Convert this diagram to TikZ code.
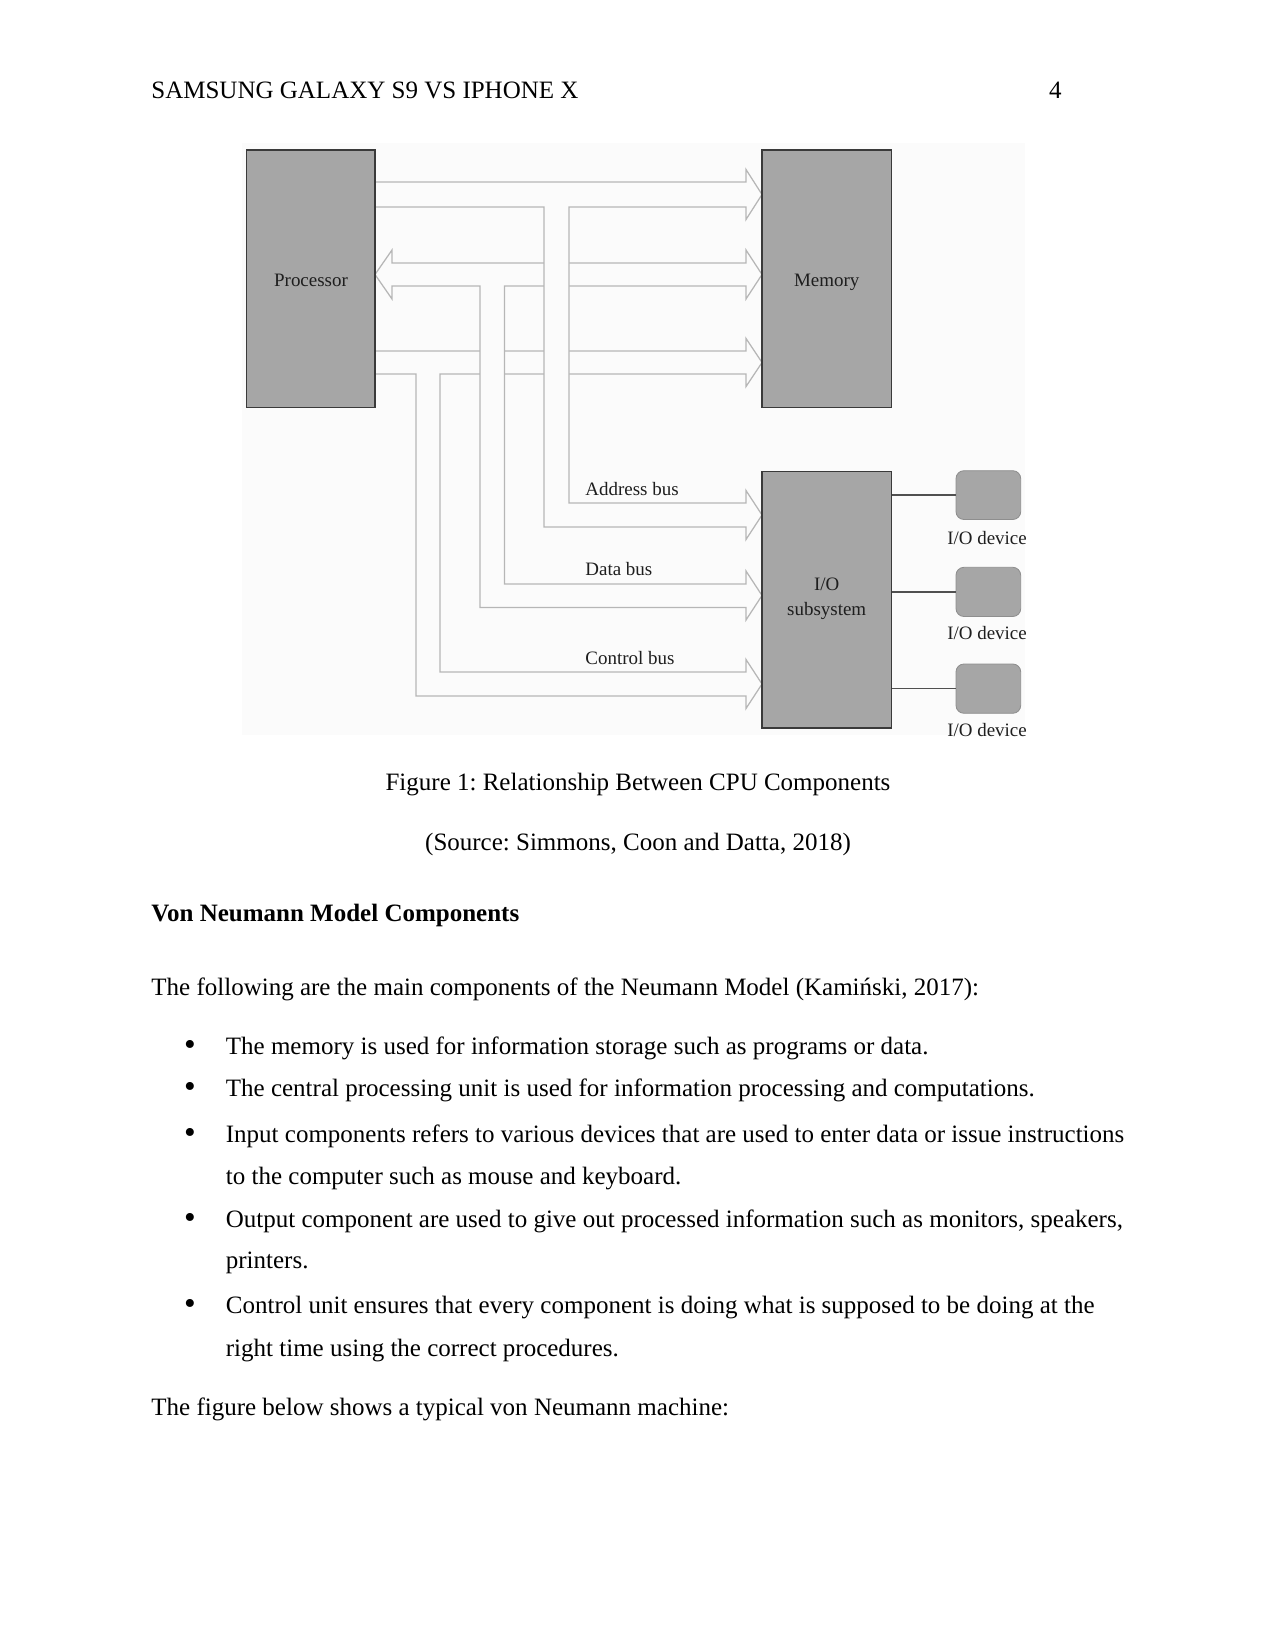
\documentclass[tikz,border=0pt]{standalone}
\usepackage{fontspec}
\setmainfont{Liberation Serif}
\usetikzlibrary{fit}
\definecolor{boxgray}{HTML}{A6A6A6}
\definecolor{boxedge}{HTML}{3A3A3A}
\definecolor{devedge}{HTML}{8E8E8E}
\definecolor{busline}{HTML}{B6B6B6}
\definecolor{bgfill}{HTML}{FBFBFB}
\definecolor{labelc}{HTML}{1E1E1E}
\definecolor{connc}{HTML}{505050}
\frenchspacing
\begin{document}
\begin{tikzpicture}[x=0.48pt,y=-0.48pt,
  blk/.style={draw=boxedge,line width=0.75pt,fill=boxgray,inner sep=0pt,outer sep=0pt},
  dev/.style={draw=devedge,line width=0.4pt,fill=boxgray,rounded corners=3.8pt,inner sep=0pt,outer sep=0pt},
  bus/.style={draw=busline,line width=0.6pt,fill=bgfill,line join=miter},
  conn/.style={draw=connc,line width=0.6pt},
  lbl/.style={font=\fontsize{9.1}{11}\selectfont,text=labelc,inner sep=0pt,anchor=base},
  txt/.style={font=\fontsize{12}{14}\selectfont,inner sep=0pt,anchor=base west},
  ctxt/.style={font=\fontsize{12}{14}\selectfont,inner sep=0pt,anchor=base},
  bul/.style={font=\fontsize{16}{16}\selectfont,inner sep=0pt,anchor=base}]
\useasboundingbox (0,0) rectangle (1275,1651);

% page text
\node[txt] (hdr) at (151,98.3) {SAMSUNG GALAXY S9 VS IPHONE X};
\node[font=\fontsize{12}{14}\selectfont,inner sep=0pt,anchor=base east] (pg) at (1062,98.3) {4};

% diagram background
\fill[bgfill] (242,143) rectangle (1025,735);

% control bus
\draw[bus] (375,351) -- (746,351) -- (746,338.5) -- (762,362.5) -- (746,386.5) -- (746,374)
  -- (440,374) -- (440,672) -- (746,672) -- (746,659.5) -- (762,684) -- (746,708.5) -- (746,696)
  -- (416,696) -- (416,374) -- (375,374) -- cycle;
% data bus
\draw[bus] (375,274.5) -- (392,250) -- (392,263) -- (746,263) -- (746,250) -- (762,274.5)
  -- (746,299) -- (746,286) -- (504.5,286) -- (504.5,584) -- (746,584) -- (746,571) -- (762,595.5)
  -- (746,620) -- (746,607.5) -- (480,607.5) -- (480,286) -- (392,286) -- (392,299) -- cycle;
% address bus
\draw[bus] (375,182) -- (746,182) -- (746,169.5) -- (762,194.5) -- (746,219.5) -- (746,207)
  -- (569,207) -- (569,503) -- (746,503) -- (746,490.5) -- (762,515) -- (746,539.5) -- (746,527)
  -- (544,527) -- (544,207) -- (375,207) -- cycle;

% blocks
\node[blk, fit={(246.7,150) (375,407.7)}] (proc) {};
\node[blk, fit={(762,150) (891.7,407.7)}] (mem) {};
\node[blk, fit={(762,471.7) (891.7,728)}] (io) {};
\node[dev, fit={(956,470.7) (1020.7,519.5)}] (d1) {};
\node[dev, fit={(956,567.3) (1020.7,616.5)}] (d2) {};
\node[dev, fit={(956,664) (1020.7,713.3)}] (d3) {};
\draw[conn] (io.east |- d1.west) -- (d1.west);
\draw[conn] (io.east |- d2.west) -- (d2.west);
\draw[conn] (io.east |- d3.west) -- (d3.west);

% diagram labels
\node[lbl] (proct) at (311,286.7) {Processor};
\node[lbl] (memt) at (826.7,286.7) {Memory};
\node[lbl] (iot1) at (826.7,590.7) {I/O};
\node[lbl] (iot2) at (826.7,615.7) {subsystem};
\node[lbl] (d1t) at (987,544.3) {I/O device};
\node[lbl] (d2t) at (987,639.3) {I/O device};
\node[lbl] (d3t) at (987,736) {I/O device};
\node[lbl,anchor=base west] (abus) at (585,495.7) {Address bus};
\node[lbl,anchor=base west] (dbus) at (585,575.7) {Data bus};
\node[lbl,anchor=base west] (cbus) at (585,664.3) {Control bus};

% captions and body
\node[ctxt] (cap) at (638,790.5) {Figure 1: Relationship Between CPU Components};
\node[ctxt] (src) at (638,850) {(Source: Simmons, Coon and Datta, 2018)};
\node[txt,font=\fontsize{12}{14}\selectfont\bfseries] (head) at (151,921.7) {Von Neumann Model Components};
\node[txt] (intro) at (151,995.5) {The following are the main components of the Neumann Model (Kamiński, 2017):};

\node[bul] (b1) at (190,1055) {•};
\node[txt] (l1) at (225.5,1054) {The memory is used for information storage such as programs or data.};
\node[bul] (b2) at (190,1097.5) {•};
\node[txt] (l2) at (225.5,1096.5) {The central processing unit is used for information processing and computations.};
\node[bul] (b3) at (190,1143) {•};
\node[txt] (l3) at (225.5,1142) {Input components refers to various devices that are used to enter data or issue instructions};
\node[txt] (l3b) at (225.5,1184) {to the computer such as mouse and keyboard.};
\node[bul] (b4) at (190,1228) {•};
\node[txt] (l4) at (225.5,1227) {Output component are used to give out processed information such as monitors, speakers,};
\node[txt] (l4b) at (225.5,1268.5) {printers.};
\node[bul] (b5) at (190,1314.5) {•};
\node[txt] (l5) at (225.5,1313.5) {Control unit ensures that every component is doing what is supposed to be doing at the};
\node[txt] (l5b) at (225.5,1356) {right time using the correct procedures.};
\node[txt] (outro) at (151,1415.5) {The figure below shows a typical von Neumann machine:};
\end{tikzpicture}
\end{document}
